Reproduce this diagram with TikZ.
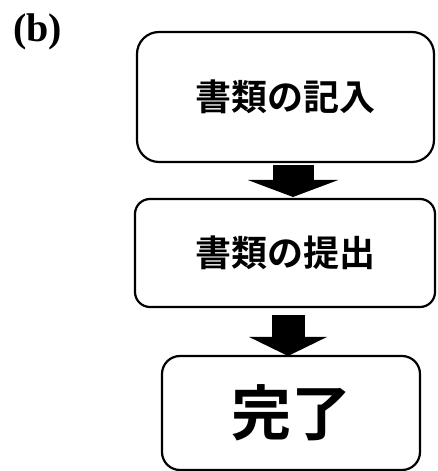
\documentclass[tikz,border=0pt]{standalone}
\usepackage{fontspec}
\setmainfont{Liberation Serif}
\newfontfamily\cjk{Noto Sans CJK JP}[BoldFont={* Bold}]
\usetikzlibrary{arrows.meta}
\begin{document}
\begin{tikzpicture}[x=1pt,y=1pt,
  box/.style={draw=black, line width=2.2pt, fill=white, outer sep=0pt, inner sep=0pt},
  boxtext/.style={font=\cjk\bfseries}]
\useasboundingbox (0,0) rectangle (437,471);
\node[font=\bfseries\fontsize{40}{44}\selectfont] (lbl) at (37.5,439) {(b)};
\node[box, boxtext, rounded corners=22pt, minimum width=297pt, minimum height=130pt] (b1) at (285.5,374)
  {\raisebox{-4pt}{\fontsize{36}{40}\selectfont 書類の記入}};
\node[box, boxtext, rounded corners=15pt, minimum width=300pt, minimum height=108pt] (b2) at (285,218)
  {\raisebox{-10pt}{\fontsize{36}{40}\selectfont 書類の提出}};
\node[box, boxtext, rounded corners=18pt, minimum width=258pt, minimum height=114pt] (b3) at (291,58)
  {\raisebox{-9pt}{\fontsize{60}{64}\selectfont 完了}};
\draw[line width=41pt, -{Triangle[width=90pt,length=17pt]}]
  ([xshift=7.5pt,yshift=-3pt]b1.south) -- ([xshift=8pt,yshift=2pt]b2.north);
\draw[line width=33pt, -{Triangle[width=77pt,length=19pt]}]
  ([xshift=3pt,yshift=-8pt]b2.south) -- ([xshift=-3pt,yshift=0pt]b3.north);
\end{tikzpicture}
\end{document}
